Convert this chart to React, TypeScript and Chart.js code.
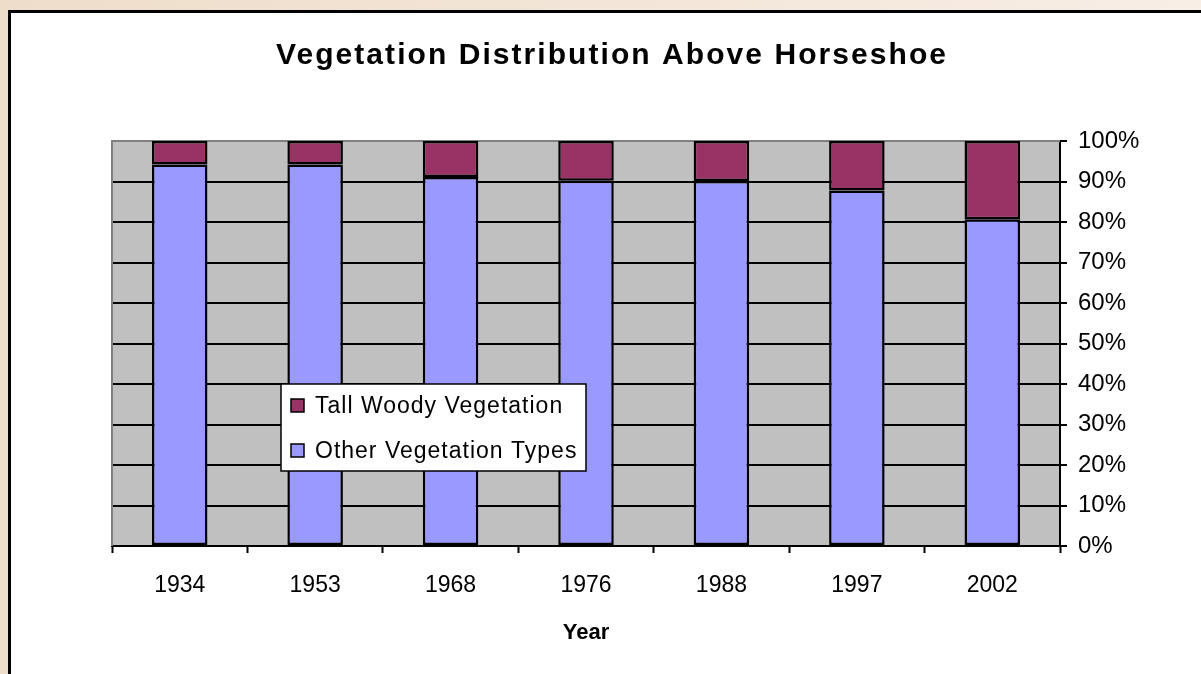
import React, { useEffect, useRef } from "react";
import { Chart, registerables } from "chart.js";

Chart.register(...registerables);

const chartTitle = "Vegetation Distribution Above Horseshoe";
const xAxisTitle = "Year";
const years = ["1934", "1953", "1968", "1976", "1988", "1997", "2002"];
const otherVegetation = [94.2, 94.2, 91.1, 90.2, 90.1, 87.8, 80.7];
const tallWoody = [5.8, 5.8, 8.9, 9.8, 9.9, 12.2, 19.3];
const seriesLabels = ["Other Vegetation Types", "Tall Woody Vegetation"];
const seriesColors = ["#9999FF", "#993366"];

const FONT = "'Liberation Sans', Arial, sans-serif";

const bgPlugin = {
  id: "plotBg",
  beforeDraw(chart: any) {
    const { ctx, chartArea } = chart;
    ctx.save();
    ctx.fillStyle = "#C0C0C0";
    ctx.fillRect(chartArea.left, chartArea.top, chartArea.right - chartArea.left, chartArea.bottom - chartArea.top);
    ctx.restore();
  },
  beforeDatasetsDraw(chart: any) {
    const { ctx, chartArea } = chart;
    ctx.save();
    ctx.strokeStyle = "#808080";
    ctx.lineWidth = 2;
    ctx.beginPath();
    ctx.moveTo(chartArea.left, chartArea.bottom);
    ctx.lineTo(chartArea.left, chartArea.top);
    ctx.lineTo(chartArea.right, chartArea.top);
    ctx.stroke();
    ctx.restore();
  },
};

const titlePlugin = {
  id: "customTitle",
  afterDraw(chart: any) {
    const { ctx } = chart;
    ctx.save();
    ctx.font = `bold 30px ${FONT}`;
    ctx.fillStyle = "#000";
    const target = 670;
    const w = ctx.measureText(chartTitle).width;
    const ls = Math.max(0, (target - w) / (chartTitle.length - 1));
    (ctx as any).letterSpacing = `${ls}px`;
    ctx.textAlign = "left";
    ctx.textBaseline = "middle";
    ctx.fillText(chartTitle, 276, 56);
    ctx.restore();
  },
};

const legendPlugin = {
  id: "insideLegend",
  afterDraw(chart: any) {
    const { ctx } = chart;
    const x = 281, y = 384, w = 305, h = 87;
    ctx.save();
    ctx.fillStyle = "#FFFFFF";
    ctx.fillRect(x, y, w, h);
    ctx.strokeStyle = "#000";
    ctx.lineWidth = 1.5;
    ctx.strokeRect(x, y, w, h);
    const ds = chart.data.datasets.slice().reverse();
    ds.forEach((d: any, i: number) => {
      const cy = 406 + i * 45;
      ctx.fillStyle = d.backgroundColor;
      ctx.fillRect(291, cy - 7, 13, 13);
      ctx.lineWidth = 1.5;
      ctx.strokeStyle = "#000";
      ctx.strokeRect(291, cy - 7, 13, 13);
      ctx.fillStyle = "#000";
      ctx.font = `23px ${FONT}`;
      (ctx as any).letterSpacing = "1px";
      ctx.textBaseline = "middle";
      ctx.textAlign = "left";
      ctx.fillText(d.label, 315, cy + 1);
    });
    ctx.restore();
  },
};

export default function App() {
  const ref = useRef<HTMLCanvasElement | null>(null);
  useEffect(() => {
    if (!ref.current) return;
    const chart = new Chart(ref.current, {
      type: "bar",
      data: {
        labels: years,
        datasets: [
          {
            label: seriesLabels[0],
            data: otherVegetation,
            backgroundColor: seriesColors[0],
            borderColor: "#000",
            borderWidth: 2.5,
            borderSkipped: false,
          },
          {
            label: seriesLabels[1],
            data: tallWoody,
            backgroundColor: seriesColors[1],
            borderColor: "#000",
            borderWidth: 2.5,
            borderSkipped: false,
          },
        ],
      },
      options: {
        responsive: false,
        animation: false,
        devicePixelRatio: 1,
        layout: { padding: { left: 112, top: 141, right: 0, bottom: 0 } },
        datasets: { bar: { barPercentage: 0.41, categoryPercentage: 1 } },
        plugins: {
          legend: { display: false },
          title: { display: false },
          tooltip: { enabled: false },
        },
        scales: {
          x: {
            stacked: true,
            afterFit: (s: any) => { s.height = 128; },
            grid: {
              offset: true,
              drawOnChartArea: false,
              drawTicks: true,
              tickLength: 7,
              tickColor: "#000",
              tickWidth: 2,
            },
            border: { display: true, color: "#000", width: 2 },
            ticks: {
              color: "#000",
              font: { family: FONT, size: 23 },
              padding: 19,
              maxRotation: 0,
            },
            title: {
              display: true,
              text: xAxisTitle,
              color: "#000",
              font: { family: FONT, size: 22, weight: "bold" },
              padding: { top: 4, bottom: 28 },
            },
          },
          y: {
            stacked: true,
            position: "right",
            min: 0,
            max: 100,
            afterFit: (s: any) => { s.width = 141; },
            grid: {
              color: (c: any) => (c.tick && c.tick.value === 100 ? "rgba(0,0,0,0)" : "#000"),
              lineWidth: 2,
              drawTicks: true,
              tickLength: 7,
              tickColor: "#000",
              tickWidth: 2,
            },
            border: { display: true, color: "#000", width: 2 },
            ticks: {
              stepSize: 10,
              color: "#000",
              font: { family: FONT, size: 24 },
              padding: 11,
              callback: (v: any) => `${v}%`,
            },
          },
        },
      },
      plugins: [bgPlugin, titlePlugin, legendPlugin],
    });
    return () => chart.destroy();
  }, []);

  return (
    <div style={{ position: "fixed", left: 0, top: 0, width: 1201, height: 674, overflow: "hidden", background: "linear-gradient(to right, #EEDDC9, #F8EEE6)" }}>
      <div style={{ position: "absolute", left: 8, top: 10, width: 1300, height: 800, background: "#FFFFFF", borderLeft: "3px solid #000", borderTop: "3px solid #000" }} />
      <canvas ref={ref} width={1201} height={674} style={{ position: "absolute", left: 0, top: 0, width: 1201, height: 674 }} />
    </div>
  );
}
